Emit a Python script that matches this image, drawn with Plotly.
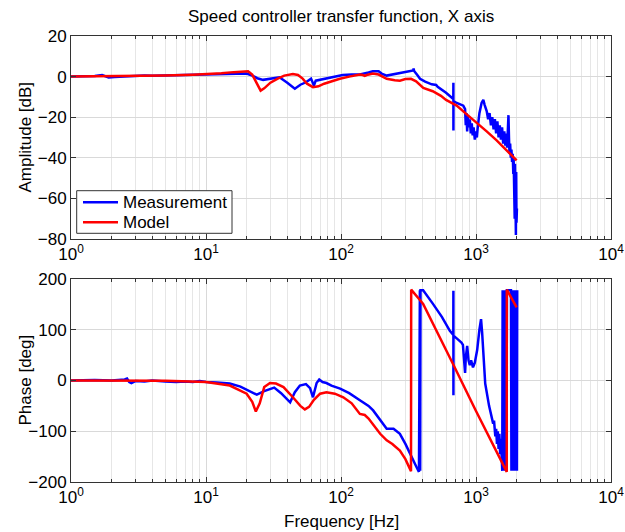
import plotly.graph_objects as go
from plotly.subplots import make_subplots

# ---------------- data ----------------
meas_amp_f = [1.0, 1.2, 1.5, 1.7, 1.8, 1.9, 2.1, 2.5, 3.0, 3.5, 4, 5, 6, 7, 8, 10, 12, 15, 18, 20,
              22, 24, 26.5, 30, 35, 40, 45.5, 50, 55, 60, 62, 63, 65, 70, 80, 87, 95, 103, 120, 138,
              160, 172, 190, 200, 218, 240, 273, 300, 330, 343, 345, 348, 365, 385, 420, 470, 507, 520,
              600, 650, 679, 680, 680.5, 681, 720, 780, 805, 830, 840, 850, 860, 870, 885, 900, 915, 930,
              945, 960, 980, 1000, 1015, 1030, 1060, 1100, 1133, 1160, 1200, 1230, 1260, 1290, 1320, 1350,
              1380, 1410, 1440, 1470, 1500, 1530, 1560, 1590, 1620, 1650, 1680, 1700, 1720, 1740, 1755, 1770,
              1790, 1810, 1830, 1850, 1870, 1890, 1900, 1915, 1925, 1935, 1945, 1955, 1965, 1975, 1985, 1995,
              2005, 2010]
meas_amp_db = [0, 0.1, 0.3, 0.8, 0.2, -0.4, -0.2, 0.1, 0.3, 0.5, 0.4, 0.6, 0.6, 0.8, 0.8, 1.0, 1.1, 1.3, 1.6, 1.5,
               0.5, -0.8, -1.6, -1.0, -0.3, -3.0, -6.0, -4.0, -2.8, -1.0, -3.0, -4.4, -2.0, -1.5, -0.8, -0.3, 0.3, 0.8, 1.0, 1.0,
               2.0, 2.6, 2.6, 1.5, 0.5, 1.0, 1.5, 2.1, 2.8, 3.0, 4.0, 2.8, 1.0, -1.1, -2.5, -3.8, -4.1, -5.0,
               -8.0, -10.0, -11.0, -3.0, -26.5, -12.0, -13.0, -14.0, -14.3, -16, -24, -18, -27, -19, -25, -21, -28, -23,
               -29, -25, -31, -27, -30, -25, -18, -13, -11.5, -14, -17, -21, -18, -24, -20, -26,
               -21, -28, -22, -30, -24, -31, -25, -33, -27, -34, -28, -35, -26, -19, -30, -38,
               -33, -40, -36, -42, -38, -48, -40, -60, -42, -70, -43, -75, -45, -78, -47, -72,
               -50, -65]

model_amp_f = [1, 2, 3, 5, 8, 10, 13, 16, 19, 20.5, 22, 23.5, 25.4, 27, 30, 34, 38, 44, 48, 52, 56, 62, 68,
               75, 85, 98, 115, 138, 145, 150, 155, 172, 190, 218, 250, 273, 300, 330, 360, 407, 478, 550,
               600, 719, 850, 1000, 1200, 1422, 1700, 2000]
model_amp_db = [0, 0.1, 0.2, 0.5, 0.9, 1.1, 1.6, 2.2, 2.7, 2.6, 1.0, -3.0, -6.9, -5.8, -3.0, -1.0, 0.5, 1.3, 0.8,
                -1.0, -3.5, -5.2, -4.8, -3.5, -2.2, -1.1, 0.0, 1.0, 0.8, 0.4, 0.8, 1.5, 1.0, -1.1, -1.8, -2.0,
                -1.2, -1.1, -2.3, -5.6, -7.2, -9.5, -11.5, -14.3, -18.5, -22.4, -27.0, -31.4, -36.5, -41.3]

meas_ph_f = [1, 1.5, 2, 2.5, 2.6, 2.7, 2.8, 3.0, 3.5, 4, 5, 6, 7, 8, 9, 10, 12, 15, 18, 20, 23.8, 27, 30, 32,
             36, 42, 45.5, 49.6, 55, 59, 62, 66, 69, 73, 78, 85, 98.5, 115, 138, 160, 173, 185, 195, 218, 245,
             273, 300, 323, 350, 363, 378, 380, 382, 384, 386, 388, 406, 430, 480, 560, 640, 679, 680, 680.5,
             681, 720, 780, 800, 820, 830, 840, 860, 880, 900, 920, 950, 980, 1020, 1060, 1090, 1110, 1140,
             1170, 1250, 1300, 1340, 1360, 1390, 1410, 1430, 1450, 1470, 1490, 1510, 1530, 1550, 1565,
             1575, 1590, 1605, 1620, 1635, 1650, 1665, 1680, 1695, 1710, 1760, 1815, 1830, 1845, 1860, 1875,
             1890, 1905, 1920, 1935, 1950, 1965, 1980, 1995, 2010, 2020]
meas_ph_deg = [0, 1, 0, 2, 4, -3, -5, -1, -2, 0, -2, -3, -2, -3, -1, -3, -4, -6, -12, -18, -28, -21, -16, -14,
               -25, -43, -23, -10, -7, -15, -33, -5, 2, -3, -5, -10, -16, -25, -39, -50, -59, -70, -79, -95, -95,
               -105, -125, -144, -165, -171, -180, 178, -178, 178, -178, 178, 178, 168, 151, 125, 98, 90, 177, -29,
               88, 83, 75, 70, 40, 15, 45, 68, 40, 30, 40, 26, 35, 60, 100, 121, 95, 30,
               -6, -50, -70, -85, -79, -110, -95, -125, -100, -135, -105, -145, -115, -150, -178,
               178, -178, 178, -178, 178, -178, 178, -178, 178, 178, 178, 178, -178, 178, -178, 178,
               -178, 178, -178, 178, -178, 178, -178, 178, -178, 178]

model_ph_f = [1, 5, 10, 15, 20, 22, 23.4, 25, 27, 29.8, 33, 37.5, 44, 50, 54, 58, 63, 70, 78, 90, 104, 120,
              138, 150, 160, 195, 218, 240, 273, 300, 330, 331, 380, 406, 680, 1000, 1690, 1691, 2000]
model_ph_deg = [0, -0.5, -3, -10, -26, -42, -61, -45, -13, -5, -6, -13, -33, -50, -57, -52, -38, -26, -23, -26,
                -33, -45, -66, -68, -75, -105, -118, -125, -138, -155, -179, 179, 160, 151, 31, -60, -180,
                179, 144]

x_tickvals = [1, 10, 100, 1000, 10000]
x_ticktext = ["10<sup>0</sup>", "10<sup>1</sup>", "10<sup>2</sup>", "10<sup>3</sup>", "10<sup>4</sup>"]

title_text = "Speed controller transfer function, X axis"
amp_label = "Amplitude [dB]"
phase_label = "Phase [deg]"
freq_label = "Frequency [Hz]"
legend_names = ["Measurement", "Model"]

# ---------------- figure ----------------
BLUE = "#0000ff"
RED = "#ff0000"
FONT = "Liberation Sans, Arial, sans-serif"
FS = 17
W, H = 625, 532
ML, MR, MT, MB = 71, 14, 36, 50
PW, PH = W - ML - MR, H - MT - MB


def px(xp):
    return (xp - ML) / PW


def py(yp):
    return (H - MB - yp) / PH


fig = make_subplots(rows=2, cols=1)

fig.add_trace(go.Scatter(x=meas_amp_f, y=meas_amp_db, mode="lines", name=legend_names[0],
                         line=dict(color=BLUE, width=2.5), showlegend=False), row=1, col=1)
fig.add_trace(go.Scatter(x=model_amp_f, y=model_amp_db, mode="lines", name=legend_names[1],
                         line=dict(color=RED, width=2.5), showlegend=False), row=1, col=1)
fig.add_trace(go.Scatter(x=meas_ph_f, y=meas_ph_deg, mode="lines", name=legend_names[0],
                         line=dict(color=BLUE, width=2.5), showlegend=False), row=2, col=1)
fig.add_trace(go.Scatter(x=model_ph_f, y=model_ph_deg, mode="lines", name=legend_names[1],
                         line=dict(color=RED, width=2.5), showlegend=False), row=2, col=1)

xcommon = dict(type="log", range=[0, 4], tickvals=x_tickvals, ticktext=x_ticktext, automargin=False,
               showgrid=True, gridcolor="#d9d9d9", gridwidth=1,
               minor=dict(dtick="D1", showgrid=True, gridcolor="#e6e6e6", gridwidth=1,
                          ticks="inside", ticklen=3, tickcolor="#333333"),
               showline=True, linecolor="#333333", linewidth=1, mirror="allticks",
               ticks="inside", ticklen=5, tickcolor="#333333", zeroline=False,
               tickfont=dict(size=FS, color="#000000", family=FONT))
ycommon = dict(showgrid=True, gridcolor="#d9d9d9", gridwidth=1, automargin=False,
               showline=True, linecolor="#333333", linewidth=1, mirror="allticks",
               ticks="inside", ticklen=5, tickcolor="#333333", zeroline=False,
               tickfont=dict(size=FS, color="#000000", family=FONT))

fig.update_layout(
    xaxis=dict(**xcommon, domain=[0, 1]),
    xaxis2=dict(**xcommon, domain=[0, 1]),
    yaxis=dict(**ycommon, domain=[py(239), 1], range=[-80, 20], dtick=20),
    yaxis2=dict(**ycommon, domain=[0, py(279)], range=[-200, 200], dtick=100),
    width=W, height=H,
    margin=dict(l=ML, r=MR, t=MT, b=MB, autoexpand=False),
    paper_bgcolor="white", plot_bgcolor="white",
    font=dict(family=FONT, color="#000000"),
    showlegend=False,
    hovermode=False,
)

txt = dict(size=FS, color="#000000", family=FONT)
ann = [
    dict(text=title_text, x=0.5, y=py(17), xanchor="center", yanchor="middle"),
    dict(text=freq_label, x=0.5, y=py(521), xanchor="center", yanchor="middle"),
    dict(text=amp_label, x=px(25), y=py(137.5), xanchor="center", yanchor="middle", textangle=-90),
    dict(text=phase_label, x=px(25), y=py(380.5), xanchor="center", yanchor="middle", textangle=-90),
    dict(text=legend_names[0], x=px(121), y=py(202.3), xanchor="left", yanchor="middle"),
    dict(text=legend_names[1], x=px(121), y=py(222.3), xanchor="left", yanchor="middle"),
]
for a in ann:
    fig.add_annotation(xref="paper", yref="paper", showarrow=False, font=txt, **a)

# legend frame and sample lines
fig.add_shape(type="rect", xref="paper", yref="paper", x0=px(76.7), x1=px(232), y0=py(233.3), y1=py(190.7),
              line=dict(color="#333333", width=1), fillcolor="white", layer="above")
fig.add_shape(type="line", xref="paper", yref="paper", x0=px(83), x1=px(118), y0=py(202.3), y1=py(202.3),
              line=dict(color=BLUE, width=2.5), layer="above")
fig.add_shape(type="line", xref="paper", yref="paper", x0=px(83), x1=px(118), y0=py(222.3), y1=py(222.3),
              line=dict(color=RED, width=2.5), layer="above")

fig.write_html("out.html", config={"displayModeBar": False},
               post_script="document.body.style.margin='0px';")
